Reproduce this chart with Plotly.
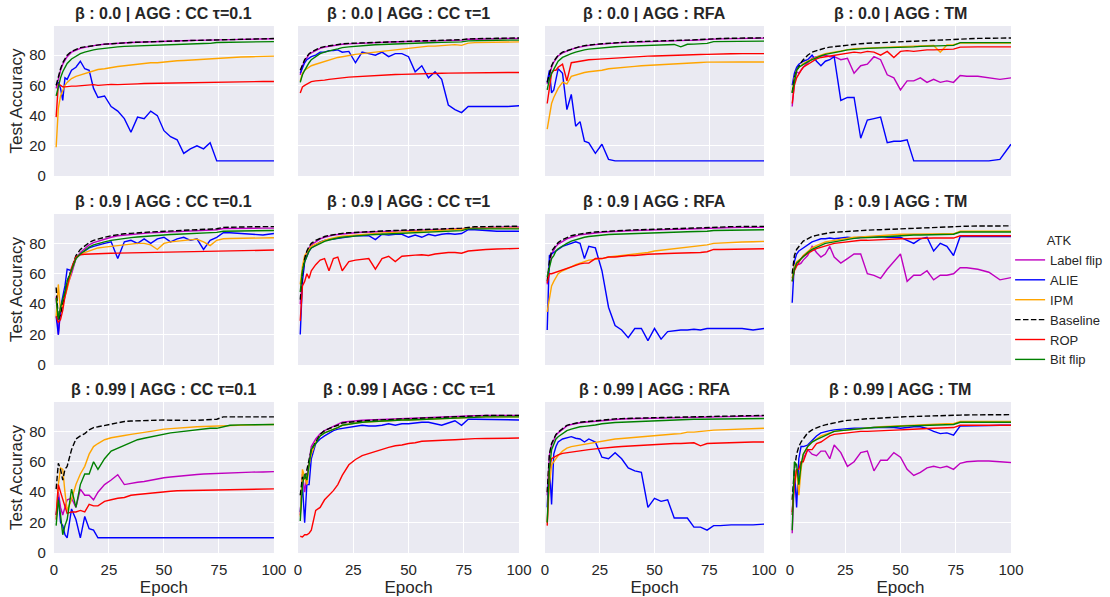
import plotly.graph_objects as go
from plotly.subplots import make_subplots

epochs = [1, 2, 3, 4, 5, 6, 8,
          10, 12, 14, 16, 18, 20,
          23, 26, 29, 32, 35, 38, 41, 44,
          47, 50, 53, 56, 59, 62, 65, 68,
          71, 74, 77, 80, 85, 90, 95, 100]

attacks = ["Label flip", "ALIE", "IPM", "Baseline", "ROP", "Bit flip"]
betas = ["0.0", "0.9", "0.99"]
aggs = ["CC τ=0.1", "CC τ=1", "RFA", "TM"]

# ---- beta 0.0 ----
b0_cc01_lf = [58, 65, 70, 74, 77, 79, 82, 83.5, 84.5, 85.2, 85.8, 86.3, 86.8, 87.2, 87.6, 88, 88.2, 88.4, 88.6, 88.8, 89, 89.1, 89.3, 89.4, 89.5, 89.6, 89.7, 89.8, 89.9, 90, 90.2, 90.4, 90.5, 90.6, 90.7, 90.8, 90.9]
b0_cc01_alie = [60, 62, 58, 50, 65, 64, 70, 72, 76, 71, 70, 58, 52, 53, 46, 43, 38, 29, 39, 38, 43, 40, 30, 26, 24, 15, 18, 20, 18, 22, 10, 10, 10, 10, 10, 10, 10]
b0_cc01_ipm = [19, 45, 53, 57, 60, 62, 64.5, 66, 67, 68, 69, 69.5, 70.5, 71, 72, 72.5, 73, 73.5, 74, 74.5, 75, 75, 75.5, 76, 76.3, 76.5, 76.8, 77, 77.3, 77.8, 78, 78.5, 78.7, 78.8, 79, 79.2, 79.4]
b0_cc01_base = [60, 66, 71, 75, 78, 80, 82.5, 84, 85, 85.5, 86, 86.5, 87, 87.3, 87.6, 88, 88.2, 88.4, 88.6, 88.8, 89, 89.1, 89.3, 89.4, 89.5, 89.6, 89.7, 89.8, 89.9, 90, 90.2, 90.5, 90.6, 90.7, 90.8, 90.9, 91]
b0_cc01_rop = [39, 61, 60, 59, 59, 59.3, 59.5, 59.5, 59.8, 60, 60.3, 60.5, 60, 60.5, 60.7, 60.5, 60.8, 61, 61, 61.2, 61.3, 61.5, 61.5, 61.6, 61.8, 61.8, 62, 62, 62.1, 62.2, 62.3, 62.3, 62.4, 62.5, 62.5, 62.6, 62.6]
b0_cc01_bf = [53, 60, 65, 69, 72, 74.5, 77.5, 79.5, 81, 82, 83, 83.5, 84, 84.6, 85, 85.5, 85.8, 86, 86.3, 86.5, 86.7, 86.9, 87, 87.1, 87.3, 87.4, 87.5, 87.6, 87.7, 87.8, 88.4, 88.5, 88.7, 88.8, 88.9, 88.9, 89]

b0_cc1_lf = [67, 73, 76, 78.5, 80.5, 81.5, 83, 84.5, 85.3, 85.8, 86.3, 86.7, 87.2, 87.5, 87.8, 88, 88.2, 88.4, 88.5, 88.7, 88.8, 88.9, 89, 89.2, 89.3, 89.4, 89.5, 89.6, 89.7, 89.8, 90, 90.5, 90.7, 90.8, 90.9, 91, 91]
b0_cc1_alie = [68, 72, 75, 77, 78, 79, 80, 82, 82, 83, 83, 83.5, 82, 82.5, 75, 82, 81, 80, 82, 79, 81, 81, 79, 69, 73, 65, 69, 64, 47, 44, 42, 46, 46, 46, 46, 46, 46.5]
b0_cc1_ipm = [63, 68, 70, 71, 72, 73, 74, 75, 76, 77, 78, 78.5, 79, 80, 80.5, 81, 81.5, 82, 82.5, 83, 83.5, 84, 84.5, 85, 85.5, 86, 86, 86.2, 86.5, 87, 86.5, 88, 88.3, 88.5, 88.6, 88.7, 88.8]
b0_cc1_base = [70, 74, 77, 79, 81, 82, 83.5, 85, 85.7, 86.2, 86.7, 87, 87.5, 87.8, 88, 88.2, 88.4, 88.6, 88.7, 88.9, 89, 89.1, 89.2, 89.4, 89.5, 89.6, 89.7, 89.8, 89.9, 90, 90.3, 90.8, 91, 91.1, 91.2, 91.3, 91.4]
b0_cc1_rop = [55, 59, 60, 61, 62, 62.5, 63, 63, 63.5, 64, 64.5, 64.8, 65, 65.5, 65.8, 66, 66.3, 66.5, 66.8, 67, 67.2, 67.3, 67.5, 67.6, 67.7, 67.8, 67.9, 68, 68.1, 68.2, 68.3, 68.4, 68.4, 68.5, 68.5, 68.5, 68.5]
b0_cc1_bf = [62, 67, 70, 73, 75, 77, 79, 81, 82, 83, 83.5, 84.2, 85, 85.5, 86, 86.3, 86.6, 86.9, 87.1, 87.3, 87.5, 87.7, 88, 88.1, 88.2, 88.3, 88.4, 88.5, 88.6, 88.7, 88.8, 89.5, 89.7, 89.8, 89.9, 90, 90]

b0_rfa_lf = [61, 67, 72, 75.5, 77.5, 79.5, 81.5, 82.8, 83.8, 84.8, 85.5, 86, 86.5, 87, 87.4, 87.8, 88.1, 88.3, 88.5, 88.7, 88.9, 89.1, 89.3, 89.4, 89.5, 89.6, 89.7, 89.8, 89.9, 90, 90.3, 90.6, 90.8, 91, 91.1, 91.2, 91.3]
b0_rfa_alie = [62, 70, 55, 57, 64, 71, 68, 44, 54, 33, 36, 23, 22, 15, 21, 11, 10, 10, 10, 10, 10, 10, 10, 10, 10, 10, 10, 10, 10, 10, 10, 10, 10, 10, 10, 10, 10]
b0_rfa_ipm = [31, 40, 48, 52, 55, 58, 62, 61, 66, 67, 68, 68.5, 69, 69.5, 70, 71, 71.5, 72, 72.3, 72.6, 73, 73.3, 73.5, 73.8, 74, 74.3, 74.6, 74.8, 75, 75.2, 75.4, 75.5, 75.5, 75.5, 75.5, 75.5, 75.5]
b0_rfa_base = [62, 68, 73, 76, 78, 80, 82, 83, 84, 85, 85.8, 86.3, 86.8, 87.2, 87.6, 88, 88.3, 88.5, 88.7, 88.9, 89.1, 89.3, 89.5, 89.6, 89.7, 89.8, 89.9, 90, 90.1, 90.2, 90.5, 90.8, 91, 91.2, 91.3, 91.4, 91.5]
b0_rfa_rop = [48, 60, 68, 70, 70, 72, 74, 63, 75, 75.5, 76, 76.5, 77, 77.2, 77.5, 78, 78.2, 78.5, 78.8, 79, 79.2, 79.4, 79.5, 79.7, 79.8, 80, 80, 80.2, 80.3, 80.4, 80.5, 80.7, 80.8, 80.9, 81, 81, 81]
b0_rfa_bf = [57, 64, 68, 71, 74, 76, 78.5, 80, 81, 82, 83, 83.5, 84, 84.5, 85, 85.3, 85.6, 85.8, 86, 86.3, 86.5, 86.6, 86.8, 87, 87, 87.1, 85.5, 87.2, 87.3, 87.5, 87.8, 89, 89, 89.1, 89.2, 89.3, 89.3]

b0_tm_lf = [46, 62, 69, 68, 70, 72, 75, 78, 79, 79.5, 80, 79, 79, 77, 78, 68, 73, 74, 79, 77, 67, 65, 57, 63, 63, 65, 62, 64, 62, 63, 62, 66.5, 66, 66, 65, 64, 65]
b0_tm_alie = [60, 68, 72, 74, 75, 76, 77, 80, 76, 73, 76, 77, 79, 50, 52, 52, 25, 37, 38, 39, 22, 23, 23, 24, 10, 10, 10, 10, 10, 10, 10, 10, 10, 10, 10, 11, 21]
b0_tm_ipm = [56, 65, 70, 72, 73, 74.5, 76, 77.5, 79, 80, 81, 81.5, 82, 83, 83.8, 84.3, 84.5, 84.8, 85, 85.2, 85.3, 85.5, 85.6, 85.8, 86, 86.2, 86.3, 86.4, 82, 86.8, 87, 88, 88, 88, 88, 88, 88]
b0_tm_base = [55, 65, 70, 73, 75, 77, 80, 82, 83, 84, 84.8, 85.3, 85.7, 86.3, 86.8, 87.3, 87.6, 87.9, 88.1, 88.3, 88.5, 88.7, 89, 89.2, 89.4, 89.6, 89.8, 90, 90.1, 90.3, 90.5, 90.8, 91, 91.1, 91.2, 91.3, 91.4]
b0_tm_rop = [48, 60, 65, 68, 70, 72, 74, 76, 77.5, 78.5, 79, 79.5, 80, 80.8, 81.3, 82, 81.5, 82.5, 82, 80, 82.5, 78.5, 82.5, 83, 82.5, 83.2, 83.5, 83.5, 83.8, 84, 84, 85.3, 85.5, 85.5, 85.5, 85.5, 85.5]
b0_tm_bf = [55, 64, 70, 72, 73, 74, 75.5, 77, 78.5, 79.5, 80.5, 81, 81.5, 82.5, 83.5, 84, 84.3, 84.5, 84.7, 84.8, 85, 85, 85, 85.3, 85.5, 85.8, 86, 86.2, 86.3, 86.4, 86.5, 88.3, 88.3, 88.3, 88.3, 88.3, 88.3]

# ---- beta 0.9 ----
b9_cc01_lf = [45, 20, 35, 40, 45, 52, 60, 70, 74, 76.5, 79, 80.5, 81.5, 83, 84, 85, 85.5, 86, 86.3, 86.6, 86.9, 87.1, 87.3, 87.5, 87.7, 87.9, 88.1, 88.3, 88.5, 88.7, 89, 89.8, 89.9, 90, 90, 90, 90]
b9_cc01_alie = [32, 20, 38, 45, 52, 63, 62, 70, 73, 75, 77, 78, 79, 80, 81, 70, 81, 82, 80, 83, 80, 83, 84, 81, 83, 84, 82, 83, 76, 82, 84, 87, 87, 86.5, 86, 85.5, 86.5]
b9_cc01_ipm = [32, 53, 35, 40, 45, 50, 62, 70, 73, 74, 75, 76, 77, 77.5, 78, 78.5, 79, 79.5, 80, 80, 79, 76, 80, 81, 81.5, 82, 82.5, 82.8, 81, 78.5, 82, 83, 83.2, 83.3, 83.4, 83.5, 83.7]
b9_cc01_base = [51, 30, 33, 40, 48, 55, 63, 72, 76, 78.5, 80.5, 82, 83, 84, 85, 85.8, 86.3, 86.6, 87, 87.2, 87.5, 87.7, 88, 88.2, 88.4, 88.6, 88.8, 89, 89.2, 89.4, 89.6, 90.5, 90.7, 90.8, 90.9, 91, 91]
b9_cc01_rop = [32, 28, 30, 36, 45, 52, 64, 71, 72.5, 72.8, 73, 73, 73.2, 73.3, 73.5, 73.6, 73.7, 73.8, 73.9, 74, 74.1, 74.2, 74.3, 74.4, 74.5, 74.6, 74.7, 74.8, 74.9, 75, 75, 75.2, 75.3, 75.4, 75.5, 75.5, 75.6]
b9_cc01_bf = [44, 30, 38, 43, 48, 55, 62, 70, 73, 75.5, 77.5, 79, 80, 81, 82, 82.7, 83.3, 83.8, 84.2, 84.6, 85, 85.3, 85.5, 85.8, 86, 86.2, 86.4, 86.6, 86.8, 87, 87.2, 88, 88.1, 88.2, 88.3, 88.4, 88.5]

b9_cc1_lf = [40, 58, 68, 74, 77, 79, 81, 83, 84, 84.8, 85.4, 85.8, 86.2, 86.6, 87, 87.3, 87.5, 87.7, 87.9, 88, 88.2, 88.3, 88.4, 88.6, 88.7, 88.9, 89, 89.2, 89.3, 89.5, 89.7, 90.3, 90.5, 90.6, 90.7, 90.8, 90.8]
b9_cc1_alie = [20, 55, 68, 72, 75, 77, 79, 81, 82, 82.5, 83, 83.5, 84, 84.5, 85, 85, 85, 82.5, 86, 85.5, 86, 86, 84, 85.5, 84, 86, 85, 86, 86.5, 86, 86.5, 89, 89, 88.5, 88, 88, 88]
b9_cc1_ipm = [53, 65, 72, 74, 76, 78, 79.5, 81, 82, 83, 83.8, 84.3, 84.8, 85.2, 85.6, 86, 86.3, 86.6, 86.9, 87.1, 87.3, 87.5, 87.7, 87.9, 88.1, 88.3, 88.5, 88.7, 88.9, 89.1, 89.3, 90, 90, 90, 90, 90, 90]
b9_cc1_base = [43, 60, 70, 75, 78, 80, 82, 83.5, 84.5, 85.2, 85.8, 86.2, 86.6, 87, 87.3, 87.6, 87.8, 88, 88.2, 88.3, 88.5, 88.6, 88.7, 88.9, 89, 89.2, 89.3, 89.5, 89.6, 89.8, 90, 90.7, 90.9, 91, 91.1, 91.2, 91.3]
b9_cc1_rop = [29, 52, 55, 60, 57, 62, 66, 69, 70, 62, 70, 71, 62, 68, 69, 69.5, 70, 63, 70, 71.5, 68, 71.5, 72, 72.3, 72.5, 72, 73, 73.5, 74, 74, 73.5, 75, 75.5, 76, 76.3, 76.5, 76.7]
b9_cc1_bf = [48, 62, 68, 72, 75, 77, 78.5, 80, 81.3, 82.2, 83, 83.5, 84, 84.5, 85, 85.3, 85.6, 85.8, 86, 86.2, 86.4, 86.6, 86.8, 87, 87.2, 87.4, 87.6, 87.8, 88, 88.2, 88.4, 89.5, 89.5, 89.5, 89.5, 89.5, 89.5]

b9_rfa_lf = [53, 66, 73, 76, 78, 79.5, 81.5, 83, 84, 85, 85.6, 86, 86.4, 86.9, 87.3, 87.6, 87.9, 88.1, 88.3, 88.5, 88.6, 88.8, 88.9, 89, 89.1, 89.2, 89.3, 89.5, 89.6, 89.7, 89.8, 90.2, 90.3, 90.4, 90.5, 90.5, 90.5]
b9_rfa_alie = [23, 72, 73, 74, 75, 76, 78, 79, 80, 81, 80, 70, 78, 77, 62, 38, 26, 23, 18, 24, 24, 16, 24, 17, 22, 22.5, 23, 23, 23.5, 23, 24, 24, 24, 24, 24, 23, 24]
b9_rfa_ipm = [35, 45, 52, 55, 58, 60, 62, 63, 64.5, 66, 67, 68, 69, 69.5, 70, 71, 71.5, 72, 72.5, 73, 73.5, 74, 75, 75.5, 76, 76.5, 77, 77.5, 78, 78.5, 79, 80, 80.3, 80.6, 80.9, 81.1, 81.3]
b9_rfa_base = [55, 68, 75, 77, 79, 80.5, 82.5, 84, 85, 85.7, 86.3, 86.7, 87, 87.5, 87.8, 88, 88.3, 88.5, 88.7, 88.9, 89, 89.2, 89.3, 89.5, 89.6, 89.7, 89.8, 90, 90.1, 90.2, 90.4, 90.8, 91, 91, 91.1, 91.2, 91.2]
b9_rfa_rop = [54, 60, 60, 60.5, 61, 61.5, 63, 64, 65, 66, 66.5, 67, 67, 70, 70, 71, 71, 71.5, 72, 72, 72.5, 72.8, 73, 73, 73.3, 73.5, 73.6, 74, 73.8, 74, 74.5, 76, 76, 76.2, 76.3, 76.4, 76.5]
b9_rfa_bf = [58, 65, 70, 72, 75, 76.5, 78.5, 80, 81.5, 82.5, 83.3, 84, 84.5, 85, 85.5, 85.8, 86, 86.2, 86.4, 86.6, 86.8, 86.9, 87, 87.2, 87.3, 87.4, 87.5, 87.6, 87.7, 87.8, 88, 88.5, 88.6, 88.7, 88.8, 88.9, 89]

b9_tm_lf = [57, 63, 66, 66, 67, 69, 72, 78, 74, 71, 73, 78, 71, 67, 70, 73, 73, 60, 59, 57, 63, 68, 73, 55, 59, 59, 62, 56, 59, 59, 60, 64, 64, 63, 61, 56, 57.5]
b9_tm_alie = [41, 68, 73, 75, 76, 77, 79, 81, 82, 83, 83, 83.5, 83, 83.5, 84, 83.5, 84, 84, 84, 84.5, 84, 84, 84, 82, 80, 83, 84, 75, 80, 78, 72, 84.5, 84.5, 84.5, 84.5, 84.5, 84.5]
b9_tm_ipm = [57, 65, 68, 69, 70, 72, 74.5, 77, 78.5, 80, 81, 81.5, 82, 83, 83.5, 84, 84.3, 84.6, 85, 85, 85.3, 85.6, 86, 86, 86, 86, 86, 86, 86, 86.2, 86.3, 88, 88, 88, 88, 88, 88]
b9_tm_base = [60, 72, 76, 78, 80, 81.5, 83, 84.5, 85.3, 86, 86.5, 87, 87.3, 87.6, 88, 88.3, 88.5, 88.7, 88.9, 89, 89.2, 89.4, 89.5, 89.7, 89.9, 90, 90.2, 90.4, 90.5, 90.7, 90.9, 91.2, 91.3, 91.4, 91.5, 91.5, 91.5]
b9_tm_rop = [55, 62, 65, 68, 70, 71.5, 73.5, 75, 76.5, 77.5, 78, 79, 80, 80.5, 81, 81.5, 82, 82, 82.3, 82.5, 82.5, 82.8, 83, 83, 83.2, 83.5, 83.5, 83.5, 83.5, 83.5, 83.5, 85, 85, 85, 85, 85, 85]
b9_tm_bf = [55, 63, 67, 68.5, 70, 71.5, 74, 76, 77.5, 79, 80, 80.5, 81, 82, 82.8, 83.3, 83.6, 84, 84, 84.2, 84.5, 84.8, 85, 85.2, 85.5, 85.5, 85.6, 85.8, 86, 86, 86, 87.5, 87.5, 87.5, 87.5, 87.5, 87.5]

# ---- beta 0.99 ----
b99_cc01_lf = [22, 40, 30, 25, 30, 35, 36, 30, 42, 38, 38, 35, 40, 45, 48, 51.5, 45, 46, 46.5, 47, 48, 48.5, 49.5, 50, 50.5, 51, 51.3, 51.6, 52, 52.2, 52.5, 52.7, 53, 53, 53.2, 53.3, 53.5]
b99_cc01_alie = [25, 37, 20, 18, 12, 10, 29, 22, 10, 24, 16, 15, 10, 10, 10, 10, 10, 10, 10, 10, 10, 10, 10, 10, 10, 10, 10, 10, 10, 10, 10, 10, 10, 10, 10, 10, 10]
b99_cc01_ipm = [22, 45, 56, 55, 40, 28, 35, 45, 52, 57, 65, 70, 72, 74.5, 75.8, 76.7, 77.3, 78, 78.5, 79.3, 80, 80.8, 81.5, 81.8, 82.2, 82.5, 82.8, 83, 83.2, 83.4, 83.5, 83.8, 84, 84.2, 84.3, 84.4, 84.5]
b99_cc01_base = [42, 59, 55, 48, 55, 57, 68, 75, 77, 78.5, 81, 82.5, 83, 84, 85, 86, 86.5, 86.8, 87, 87.2, 87.3, 87.4, 87.5, 87.3, 87.2, 87, 87, 87.2, 87.5, 87.8, 88, 89.5, 89.5, 89.5, 89.5, 89.5, 89.5]
b99_cc01_rop = [25, 45, 40, 35, 30, 26, 27, 27, 28, 27, 32, 31, 31, 34, 35, 36, 36.5, 38, 38.5, 39, 39.5, 40, 40.3, 40.6, 40.9, 41, 41.2, 41.4, 41.5, 41.6, 41.7, 41.8, 41.9, 42, 42, 42.1, 42.2]
b99_cc01_bf = [18, 35, 25, 12, 18, 22, 42, 30, 45, 52, 52, 60, 55, 62, 67, 69, 71, 73, 74.5, 75.5, 76.5, 77.5, 78.5, 79, 79.5, 80, 80.5, 81, 81.5, 82, 82, 83, 84, 84.3, 84.5, 84.5, 84.5]

b99_cc1_lf = [25, 52, 40, 50, 62, 70, 75, 78.5, 80.5, 82, 83.5, 84.5, 86, 86.5, 87, 87.3, 87.5, 87.7, 87.9, 88, 88.2, 88.4, 88.5, 88.7, 88.9, 89, 89.2, 89.4, 89.6, 89.8, 90, 90.2, 90.3, 90.4, 90.5, 90.5, 90.5]
b99_cc1_alie = [27, 45, 20, 45, 45, 62, 72, 75, 77, 79, 80.5, 81.5, 82, 82.5, 83, 84, 83.5, 83.5, 84, 85, 84, 85, 85, 85.5, 86, 86, 85, 84, 85.5, 87, 84, 88, 88, 87.8, 87.7, 87.6, 87.5]
b99_cc1_ipm = [24, 55, 50, 45, 58, 65, 73, 77, 79, 80, 81, 82.5, 84, 85, 85.5, 86, 86.3, 86.6, 86.9, 87.1, 87.3, 87.5, 87.5, 87.7, 87.9, 88.1, 88.3, 88.5, 88.7, 88.9, 89, 89.3, 89.4, 89.5, 89.5, 89.5, 89.5]
b99_cc1_base = [38, 50, 48, 55, 62, 68, 73, 78, 80.5, 82, 83, 84, 85.5, 86, 86.5, 87, 87.2, 87.4, 87.6, 87.8, 88, 88.2, 88.5, 88.7, 88.9, 89, 89.2, 89.4, 89.6, 89.8, 90, 90.2, 90.3, 90.4, 90.5, 90.5, 90.5]
b99_cc1_rop = [11, 10.5, 12, 12, 13, 15, 28, 30, 35, 38, 41, 45, 51, 58, 61.5, 64, 65.5, 67, 68, 69.5, 70.5, 71, 72, 72.5, 73.5, 73.8, 74, 74, 74.3, 74.5, 74.8, 75, 75.2, 75.3, 75.4, 75.5, 75.6]
b99_cc1_bf = [21, 45, 52, 48, 58, 68, 72, 77, 79, 80, 81, 82.5, 84, 84.8, 85.5, 86, 86.3, 86.6, 86.9, 87.1, 87.3, 87.5, 87.5, 87.7, 87.9, 88, 88.2, 88.4, 88.6, 88.8, 89, 89.3, 89.4, 89.5, 89.5, 89.5, 89.5]

b99_rfa_lf = [38, 64, 71, 74.5, 77.5, 79, 81.5, 83.6, 84.5, 85.2, 85.7, 86, 86.3, 86.7, 87.2, 87.7, 87.9, 88.1, 88.3, 88.4, 88.5, 88.6, 88.7, 88.8, 88.9, 89, 89.1, 89.2, 89.3, 89.4, 89.5, 89.7, 89.8, 89.9, 90, 90.1, 90.2]
b99_rfa_alie = [30, 58, 32, 65, 70, 73, 75, 76, 76.5, 75.5, 75, 73, 75, 73, 63, 62, 66, 62, 56, 54, 53, 30, 36, 34, 35, 23, 23, 23, 17, 17, 15, 18, 18, 18.5, 18.5, 18.5, 19]
b99_rfa_ipm = [20, 45, 58, 60, 62, 64, 67, 69, 70, 70.5, 71, 72, 72.5, 73, 73.5, 74.5, 75, 75.3, 75.7, 76, 76.5, 77, 77.5, 77.8, 78, 78.3, 78.5, 79.5, 79.5, 80, 80.5, 80.8, 81, 81.3, 81.6, 81.8, 82]
b99_rfa_base = [40, 65, 72, 75, 78, 79.5, 82, 84, 84.8, 85.5, 86, 86.3, 86.6, 87, 87.5, 88, 88.2, 88.4, 88.6, 88.7, 88.8, 88.9, 89, 89.1, 89.2, 89.3, 89.4, 89.5, 89.6, 89.7, 89.8, 90, 90.1, 90.2, 90.3, 90.4, 90.5]
b99_rfa_rop = [18, 55, 62, 63, 64, 64.5, 65.5, 66, 66.5, 67, 67.3, 67.6, 68, 68.5, 69, 69.5, 69.7, 70, 70.3, 70.5, 70.8, 71, 71.5, 71.6, 71.8, 72, 72, 72.2, 72.5, 70.5, 72, 72.2, 72.4, 72.6, 72.8, 73, 73]
b99_rfa_bf = [20, 55, 68, 72, 75, 76.5, 78.5, 80.5, 81.5, 82.3, 83, 83.3, 83.5, 84.2, 85, 85.5, 85.8, 86, 86.2, 86.5, 86.7, 87, 87, 87.2, 87.4, 87.5, 87.6, 87.8, 88, 88, 88.1, 88.2, 88.3, 88.4, 88.4, 88.5, 88.5]

b99_tm_lf = [13, 50, 55, 45, 58, 62, 68, 65, 64, 67, 67, 62, 71, 66, 57, 60, 66, 67, 54, 61, 61, 66, 63, 55, 51, 53, 56, 57, 56, 57, 55, 59, 60, 60.5, 60.5, 60, 59.5]
b99_tm_alie = [25, 55, 30, 62, 70, 70, 71, 74, 77, 79, 80, 80.5, 81, 81.5, 81.8, 82, 82, 82.2, 82.5, 82.5, 82.3, 82.5, 82, 82.5, 83, 83, 82, 80, 78.5, 79, 77.5, 83.5, 83.5, 83.7, 83.8, 84, 84]
b99_tm_ipm = [25, 50, 55, 38, 55, 65, 70, 73, 75, 77, 78, 79, 80, 80.5, 81, 81.5, 82, 82.3, 82.6, 83, 83.2, 83.5, 84, 84, 84.2, 84.5, 84.5, 84.7, 84.8, 85, 85, 86.5, 86.5, 86.5, 86.5, 86.5, 86.5]
b99_tm_base = [35, 55, 65, 70, 73, 75, 79, 81, 82.5, 83.5, 84.3, 85, 85.8, 86.5, 87.2, 87.7, 88, 88.3, 88.5, 88.8, 89, 89.2, 89.5, 89.7, 89.8, 90, 90.1, 90.2, 90.3, 90.4, 90.5, 90.7, 90.8, 90.9, 91, 91, 91]
b99_tm_rop = [27, 45, 55, 55, 60, 60, 68, 68, 72, 73, 75, 77, 78, 78.5, 79, 79.5, 80, 80, 80.3, 80.5, 80.5, 80.8, 81, 81.2, 81.5, 81.7, 82, 82, 82.2, 82.3, 82.5, 84, 84, 84, 84, 84, 84]
b99_tm_bf = [15, 60, 58, 45, 58, 65, 70, 73, 74.5, 76, 77, 78.5, 80, 80.5, 81, 81.5, 82, 82.2, 82.5, 82.8, 83, 83.2, 83.5, 83.6, 83.7, 83.8, 84, 84.1, 84.2, 84.3, 84.5, 86, 86, 86, 86, 86, 86]

panels = [
    [[b0_cc01_lf, b0_cc01_alie, b0_cc01_ipm, b0_cc01_base, b0_cc01_rop, b0_cc01_bf],
     [b0_cc1_lf, b0_cc1_alie, b0_cc1_ipm, b0_cc1_base, b0_cc1_rop, b0_cc1_bf],
     [b0_rfa_lf, b0_rfa_alie, b0_rfa_ipm, b0_rfa_base, b0_rfa_rop, b0_rfa_bf],
     [b0_tm_lf, b0_tm_alie, b0_tm_ipm, b0_tm_base, b0_tm_rop, b0_tm_bf]],
    [[b9_cc01_lf, b9_cc01_alie, b9_cc01_ipm, b9_cc01_base, b9_cc01_rop, b9_cc01_bf],
     [b9_cc1_lf, b9_cc1_alie, b9_cc1_ipm, b9_cc1_base, b9_cc1_rop, b9_cc1_bf],
     [b9_rfa_lf, b9_rfa_alie, b9_rfa_ipm, b9_rfa_base, b9_rfa_rop, b9_rfa_bf],
     [b9_tm_lf, b9_tm_alie, b9_tm_ipm, b9_tm_base, b9_tm_rop, b9_tm_bf]],
    [[b99_cc01_lf, b99_cc01_alie, b99_cc01_ipm, b99_cc01_base, b99_cc01_rop, b99_cc01_bf],
     [b99_cc1_lf, b99_cc1_alie, b99_cc1_ipm, b99_cc1_base, b99_cc1_rop, b99_cc1_bf],
     [b99_rfa_lf, b99_rfa_alie, b99_rfa_ipm, b99_rfa_base, b99_rfa_rop, b99_rfa_bf],
     [b99_tm_lf, b99_tm_alie, b99_tm_ipm, b99_tm_base, b99_tm_rop, b99_tm_bf]],
]

colors = {"Label flip": "#BF00BF", "ALIE": "#0000FF", "IPM": "#FFA500",
          "Baseline": "#000000", "ROP": "#FF0000", "Bit flip": "#008000"}

FONT = "Liberation Sans, Arial, sans-serif"
TXT = "#262626"

x_dom = [[0.0486, 0.2468], [0.2685, 0.4676], [0.4910, 0.6883], [0.7117, 0.9108]]
y_dom = [[0.7052, 0.9564], [0.3886, 0.6415], [0.0737, 0.3266]]

fig = make_subplots(rows=3, cols=4)

for r in range(3):
    for c in range(4):
        for k, atk in enumerate(attacks):
            ys = panels[r][c][k]
            assert len(ys) == len(epochs), (r, c, atk)
            fig.add_trace(go.Scatter(
                x=epochs, y=ys, mode="lines", name=atk, legendgroup=atk,
                showlegend=(r == 0 and c == 0),
                line=dict(color=colors[atk], width=1.4,
                          dash="5.5px,2.4px" if atk == "Baseline" else "solid"),
            ), row=r + 1, col=c + 1)

        n = r * 4 + c + 1
        xk = "xaxis" if n == 1 else f"xaxis{n}"
        yk = "yaxis" if n == 1 else f"yaxis{n}"
        fig.layout[xk].domain = x_dom[c]
        fig.layout[yk].domain = y_dom[r]

        fig.add_annotation(
            text=f"<b>β : {betas[r]} | AGG : {aggs[c]}</b>",
            x=(x_dom[c][0] + x_dom[c][1]) / 2, y=y_dom[r][1],
            xref="paper", yref="paper", xanchor="center", yanchor="bottom",
            yshift=2, showarrow=False, font=dict(family=FONT, size=16, color=TXT),
        )

fig.update_xaxes(range=[0, 100], tickvals=[0, 25, 50, 75, 100], automargin=False,
                 showgrid=True, gridcolor="white", gridwidth=1, zeroline=False,
                 showline=False, ticks="outside", ticklen=3, tickcolor="rgba(0,0,0,0)",
                 tickfont=dict(family=FONT, size=15, color=TXT))
fig.update_yaxes(range=[0, 99.3], tickvals=[0, 20, 40, 60, 80], automargin=False,
                 showgrid=True, gridcolor="white", gridwidth=1, zeroline=False,
                 showline=False, ticks="outside", ticklen=4, tickcolor="rgba(0,0,0,0)",
                 tickfont=dict(family=FONT, size=15, color=TXT))
fig.update_xaxes(showticklabels=False, row=1)
fig.update_xaxes(showticklabels=False, row=2)
for c in range(2, 5):
    fig.update_yaxes(showticklabels=False, col=c)
for c in range(1, 5):
    fig.update_xaxes(title=dict(text="Epoch", standoff=0,
                                font=dict(family=FONT, size=17, color=TXT)), row=3, col=c)
for r in range(1, 4):
    fig.update_yaxes(title=dict(text="Test Accuracy", standoff=2,
                                font=dict(family=FONT, size=17, color=TXT)), row=r, col=1)

fig.update_layout(
    width=1110, height=597,
    margin=dict(l=0, r=0, t=0, b=0),
    paper_bgcolor="white", plot_bgcolor="#EAEAF2",
    font=dict(family=FONT, color=TXT),
    legend=dict(
        title=dict(text="ATK", side="top center", font=dict(family=FONT, size=13, color=TXT)),
        x=0.910, y=0.618, xanchor="left", yanchor="top",
        bgcolor="rgba(0,0,0,0)", borderwidth=0,
        font=dict(family=FONT, size=13, color=TXT),
        tracegroupgap=0, itemwidth=30,
    ),
)

# drop the default 8px body margin so the figure sits at the page corner
fig.write_html("out.html", config={"displayModeBar": False},
               post_script="document.body.style.margin='0px';")
